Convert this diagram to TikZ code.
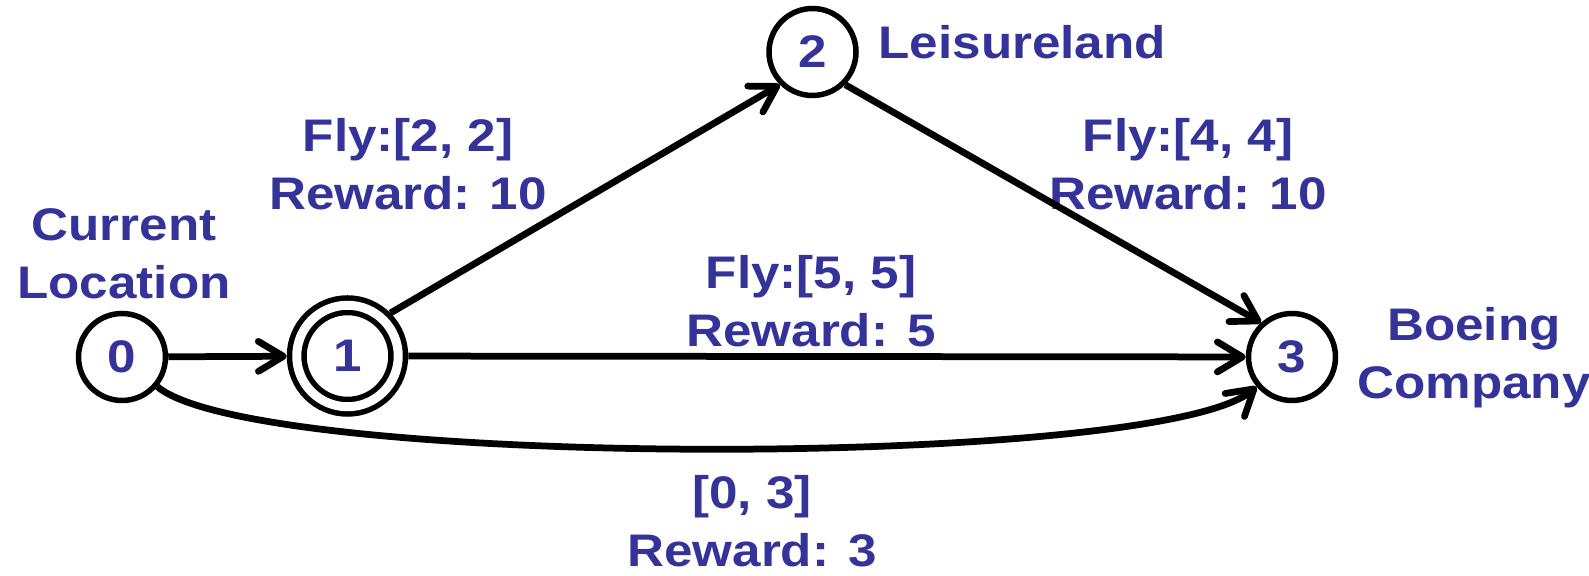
\documentclass[tikz,border=0pt]{standalone}
\usepackage{fontspec}
\setmainfont{Liberation Sans}[FakeStretch=1.12]
\usetikzlibrary{arrows.meta}
\definecolor{stateblue}{RGB}{51,51,153}

\begin{document}
\begin{tikzpicture}[
  >={Straight Barb[length=5mm,width=6mm,round]},
  state/.style={circle, draw, line width=1.1mm, minimum size=1.74cm, inner sep=0pt,
    text=stateblue, font=\fontsize{26}{33}\selectfont\bfseries},
  finalstate/.style={state, double, double distance=1.8mm, minimum size=2.03cm, outer sep=2mm},
  tag/.style={text=stateblue, align=center, font=\fontsize{26}{33}\selectfont\bfseries},
  edge/.style={->, line width=1.35mm},
]
\useasboundingbox (0,0) rectangle (31.78,11.52);

\node [state] (Current) at (2.44,4.38) {0};
\node [finalstate] (Depart) at (6.95,4.40) {1};
\node [state] (Leisure) at (16.25,10.48) {2};
\node [state] (Boeing) at (25.84,4.38) {3};

\node [tag] (CurrentText) at (2.48,6.45) {Current\\Location};
\node [tag, anchor=west] (LeisureText) at (17.45,10.68) {Leisureland};
\node [tag] (BoeingText) at (29.48,4.37) {Boeing\\Company};

\node [tag] (FlyTwo) at (8.16,8.24) {Fly:[2, 2]\\Reward: 10};
\node [tag] (FlyFive) at (16.22,5.49) {Fly:[5, 5]\\Reward: 5};
\node [tag] (FlyFour) at (23.76,8.24) {Fly:[4, 4]\\Reward: 10};
\node [tag] (WaitText) at (15.04,1.09) {[0, 3]\\Reward: 3};

\draw [edge] (Current) -- (Depart);
\draw [edge] (Depart.45) -- (Leisure.-135);
\draw [edge] (Depart) -- (Boeing);
\draw [edge] (Leisure.-45) -- (Boeing.132);
\draw [edge] (Current) to [out=-40, in=-140, looseness=0.3] (Boeing);

\end{tikzpicture}
\end{document}
